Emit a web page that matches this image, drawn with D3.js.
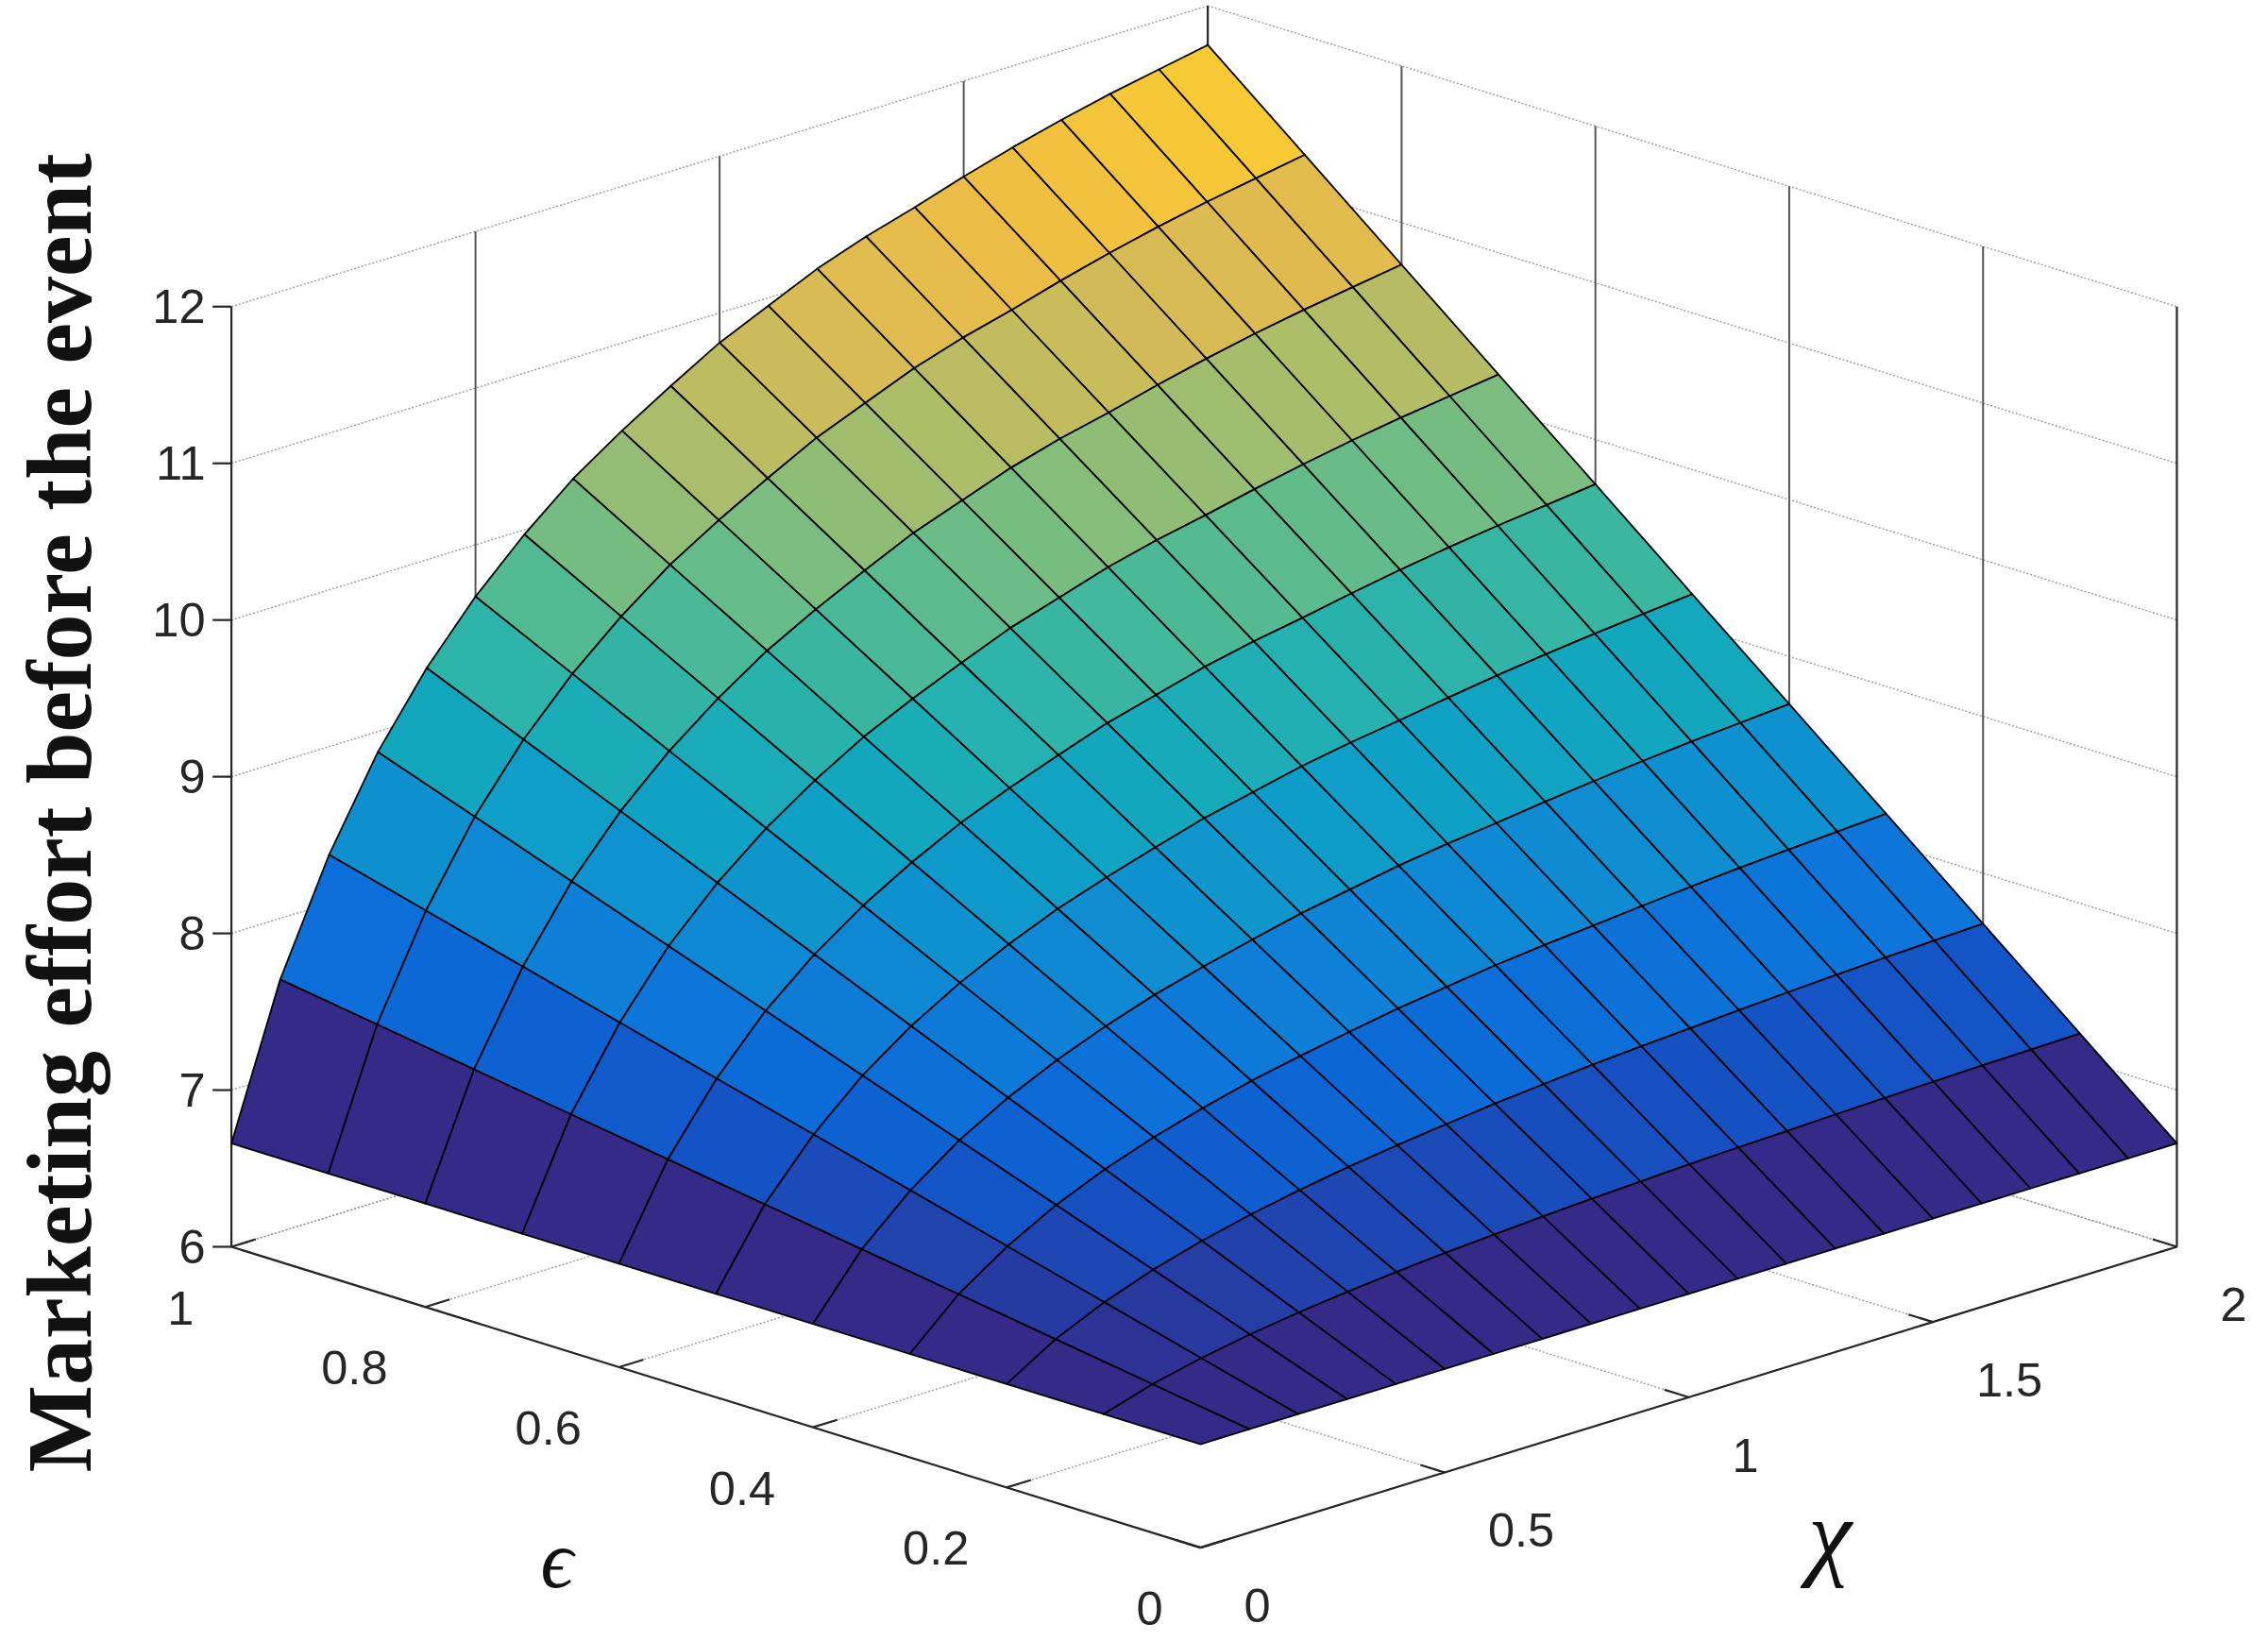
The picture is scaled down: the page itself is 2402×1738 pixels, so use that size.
<!DOCTYPE html>
<html><head><meta charset="utf-8">
<script src="https://cdn.jsdelivr.net/npm/d3@7"></script>
<style>body{margin:0;background:#fff}</style></head>
<body><svg id="c" width="2402" height="1738"></svg>
<script>
// Data
const epsValues = [0,0.1,0.2,0.3,0.4,0.5,0.6,0.7,0.8,0.9,1.0];
const chiValues = [0,0.1,0.2,0.3,0.4,0.5,0.6,0.7,0.8,0.9,1.0,1.1,1.2,1.3,1.4,1.5,1.6,1.7,1.8,1.9,2.0];
const baseValue = 6.66; // surface height along eps=0 and chi=0 edges
const edgeAtEps1 = [6.66,7.61,8.31,8.87,9.31,9.67,9.97,10.23,10.44,10.63,10.81,10.95,11.09,11.20,11.29,11.39,11.48,11.56,11.63,11.69,11.75];
const zTicks = [6,7,8,9,10,11,12];
const epsTicks = [0,0.2,0.4,0.6,0.8,1];
const epsTickLabels = ["0","0.2","0.4","0.6","0.8","1"];
const chiTicks = [0,0.5,1,1.5,2];
const chiTickLabels = ["0","0.5","1","1.5","2"];
const parula = ["#352a87","#0363e1","#1485d4","#06a7c6","#38b99e","#92bf73","#d9ba56","#fcbc3a","#f9fb0e"];

const s = 2402/1568;
const ox = 830*s, oy = 1070*s;
const eX = d3.scaleLinear().domain([0,1]).range([0,-670*s]);
const eY = d3.scaleLinear().domain([0,1]).range([0,-208*s]);
const cX = d3.scaleLinear().domain([0,2]).range([0,675*s]);
const cY = d3.scaleLinear().domain([0,2]).range([0,-208*s]);
const zY = d3.scaleLinear().domain([6,12]).range([0,-650*s]);
const P = (e,c,z)=>[ox+eX(e)+cX(c), oy+eY(e)+cY(c)+zY(z)];

const Z = epsValues.map(e=>chiValues.map((c,j)=>baseValue + e*(edgeAtEps1[j]-baseValue)));
const allZ = Z.flat();
const color = d3.scaleSequential(d3.interpolateRgbBasis(parula)).domain(d3.extent(allZ));

const svg = d3.select("#c");
const line = d3.line();
const g = svg.append("g");

function seg(a,b,st){ const p=g.append("path").attr("d",line([a,b])).attr("fill","none");
  for(const k in st) p.attr(k,st[k]); return p;}
const gridDot = {stroke:"#9a9a9a","stroke-width":1.4,"stroke-dasharray":"2,2"};
const gridDark = {stroke:"#555","stroke-width":2};
zTicks.forEach(z=>{ seg(P(1,0,z),P(1,2,z),gridDot); seg(P(1,2,z),P(0,2,z),gridDot); });
chiTicks.forEach(c=>{ if(c>0&&c<2) seg(P(1,c,6),P(1,c,12),gridDark); });
epsTicks.forEach(e=>{ if(e>0&&e<1) seg(P(e,2,6),P(e,2,12),gridDark); });
epsTicks.forEach(e=>seg(P(e,0,6),P(e,2,6),gridDot));
chiTicks.forEach(c=>seg(P(0,c,6),P(1,c,6),gridDot));
const ax = {stroke:"#262626","stroke-width":2.2};
seg(P(1,2,6),P(1,2,12),ax);
seg(P(1,0,6),P(1,0,12),ax);
seg(P(0,2,6),P(0,2,12),ax);

const faces=[];
for(let i=0;i<epsValues.length-1;i++) for(let j=0;j<chiValues.length-1;j++){
  faces.push({i,j,depth:epsValues[i]+epsValues[i+1]+(chiValues[j]+chiValues[j+1])/2});
}
faces.sort((a,b)=>b.depth-a.depth);
g.selectAll("path.f").data(faces).enter().append("path").attr("class","f")
 .attr("d",f=>{const {i,j}=f;
   return line([P(epsValues[i],chiValues[j],Z[i][j]),P(epsValues[i+1],chiValues[j],Z[i+1][j]),
     P(epsValues[i+1],chiValues[j+1],Z[i+1][j+1]),P(epsValues[i],chiValues[j+1],Z[i][j+1])])+"Z";})
 .attr("fill",f=>color(Z[f.i][f.j])).attr("stroke","#000").attr("stroke-width",1.8).attr("stroke-linejoin","round");

seg(P(1,0,6),P(0,0,6),ax);
seg(P(0,0,6),P(0,2,6),ax);
const tk = 13*s;
zTicks.forEach(z=>{const p=P(1,0,z); seg([p[0]-tk,p[1]],p,ax);});
epsTicks.forEach(e=>seg(P(e,0,6),P(e,0.05,6),ax));
chiTicks.forEach(c=>seg(P(0,c,6),P(0.025,c,6),ax));

const font = "'Liberation Sans', Arial, sans-serif";
const fs = 33*s;
zTicks.forEach(z=>{const p=P(1,0,z);
  svg.append("text").attr("x",p[0]-18*s).attr("y",p[1]).attr("dy","0.35em").attr("text-anchor","end")
   .attr("font-family",font).attr("font-size",fs).attr("fill","#262626").text(z);});
epsTicks.forEach((e,k)=>{const p=P(e,0,6);
  svg.append("text").attr("x",p[0]-26*s).attr("y",p[1]+42*s).attr("dy","0.35em").attr("text-anchor","end")
   .attr("font-family",font).attr("font-size",fs).attr("fill","#262626").text(epsTickLabels[k]);});
chiTicks.forEach((c,k)=>{const p=P(0,c,6);
  svg.append("text").attr("x",p[0]+30*s).attr("y",p[1]+40*s).attr("dy","0.35em").attr("text-anchor","start")
   .attr("font-family",font).attr("font-size",fs).attr("fill","#262626").text(chiTickLabels[k]);});

svg.append("text").attr("x",385*s).attr("y",1078*s).attr("dy","0.35em").attr("text-anchor","middle")
  .attr("font-family","'Liberation Serif', 'DejaVu Serif', serif").attr("font-style","italic")
  .attr("font-size",56*s).attr("fill","#111").text("ϵ");
svg.append("text").attr("x",1265*s).attr("y",1060*s).attr("dy","0.35em").attr("text-anchor","middle")
  .attr("font-family","'Liberation Serif', 'DejaVu Serif', serif").attr("font-style","italic")
  .attr("font-size",68*s).attr("fill","#111").text("χ");
svg.append("text").attr("transform",`translate(${40*s},${562*s}) rotate(-90)`).attr("dy","0.35em")
  .attr("text-anchor","middle").attr("font-family","'Liberation Serif', 'Times New Roman', serif")
  .attr("font-weight","bold").attr("font-size",64*s).attr("fill","#111").text("Marketing effort before the event");
</script></body></html>
